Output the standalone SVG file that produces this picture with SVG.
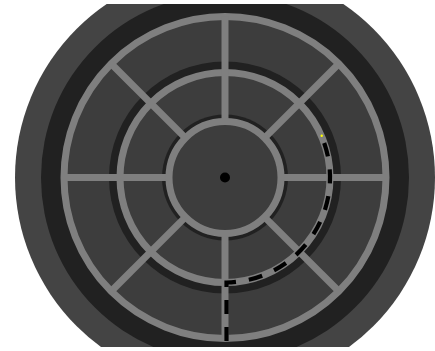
<svg xmlns="http://www.w3.org/2000/svg" width="435" height="351" viewBox="0 0 435 351">
<style>
.ring{fill:#3d3d3d;stroke:#7f7f7f;stroke-width:7}
.shadow{fill:#212121}
.spoke{stroke:#7f7f7f;stroke-width:7;fill:none}
.path{fill:none;stroke:#000;stroke-width:4.2;stroke-dasharray:14 13}
</style>
<defs>
<clipPath id="view"><rect x="0" y="4" width="435" height="343"/></clipPath>
</defs>
<rect width="435" height="351" fill="#ffffff"/>
<g clip-path="url(#view)">
<g id="base">
<circle cx="225" cy="177.5" r="210" fill="#444444"/>
<circle class="shadow" cx="225" cy="177.5" r="184"/>
</g>
<g id="outer-ring"><circle class="ring" cx="225" cy="177.5" r="161"/></g>
<g id="middle-ring">
<circle class="shadow" cx="225" cy="177.5" r="116"/>
<circle class="ring" cx="225" cy="177.5" r="105"/>
</g>
<g id="inner-ring">
<circle class="shadow" cx="225" cy="177.5" r="63"/>
</g>
<g id="spokes">
<line class="spoke" x1="225" y1="121.5" x2="225" y2="16.5"/>
<line class="spoke" x1="225" y1="233.5" x2="225" y2="338.5"/>
<line class="spoke" x1="169" y1="177.5" x2="64" y2="177.5"/>
<line class="spoke" x1="281" y1="177.5" x2="386" y2="177.5"/>
<line class="spoke" x1="185.4" y1="137.9" x2="111.2" y2="63.7"/>
<line class="spoke" x1="264.6" y1="137.9" x2="338.8" y2="63.7"/>
<line class="spoke" x1="185.4" y1="217.1" x2="111.2" y2="291.3"/>
<line class="spoke" x1="264.6" y1="217.1" x2="338.8" y2="291.3"/>
</g>
<g id="center"><circle class="ring" cx="225" cy="177.5" r="56"/>
<circle cx="225" cy="177.5" r="5" fill="#000"/></g>
<g id="connectors">
<path class="path" d="M324.2,143 A105,105 0 0 1 226.5,282.5 L226.5,352"/>
<circle cx="321.7" cy="135.7" r="1.2" fill="#ffff00"/>
</g>
</g>
</svg>
